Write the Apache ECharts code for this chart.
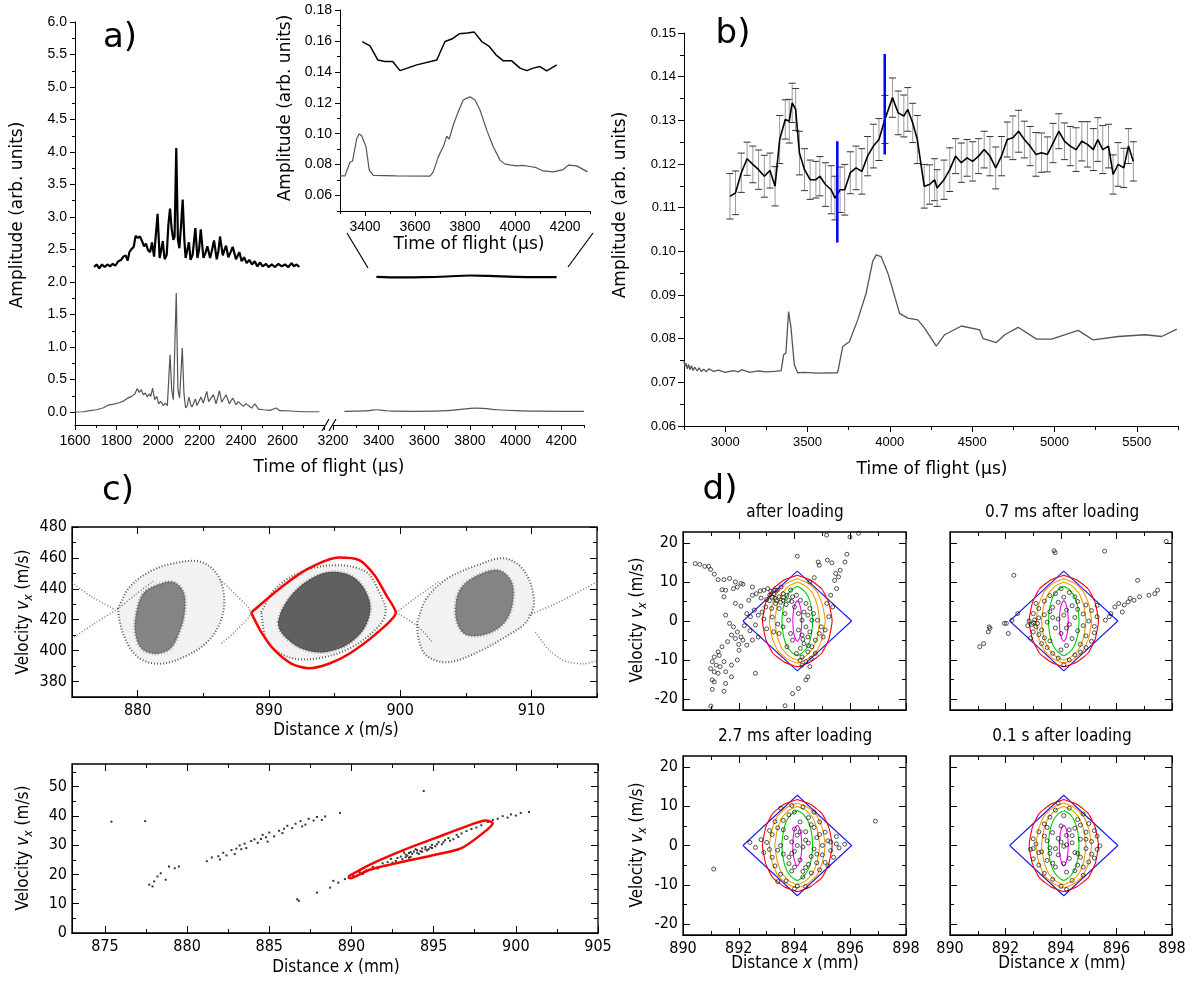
<!DOCTYPE html>
<html>
<head>
<meta charset="utf-8">
<script src="https://cdn.jsdelivr.net/npm/echarts@6/dist/echarts.min.js"></script>
<style>
  html, body { margin: 0; padding: 0; background: #fff; }
  #main { width: 1192px; height: 984px; }
</style>
</head>
<body>
<div id="main"></div>
<script>
// ---------- panel a: broadband spectrum (time of flight, amplitude) ----------
const aTimeLabelsLeft = [1600, 1800, 2000, 2200, 2400, 2600];
const aTimeLabelsRight = [3200, 3400, 3600, 3800, 4000, 4200];
const aAmpLabels = [0, 0.5, 1, 1.5, 2, 2.5, 3, 3.5, 4, 4.5, 5, 5.5, 6];

const aUpperTrace = [
  [1692,2.23],[1704,2.27],[1717,2.21],[1730,2.27],[1743,2.23],[1756,2.27],[1769,2.24],[1782,2.28],[1794,2.25],
  [1809,2.32],[1822,2.34],[1833,2.39],[1844,2.41],[1854,2.33],[1862,2.46],[1873,2.51],[1883,2.54],[1892,2.71],
  [1902,2.68],[1913,2.70],[1923,2.63],[1933,2.55],[1942,2.59],[1952,2.49],[1962,2.46],[1971,2.61],[1981,2.39],
  [1989,2.37],[1998,3.05],[2008,2.37],[2016,2.50],[2023,2.63],[2032,2.35],[2042,2.42],[2050,2.88],[2058,3.13],
  [2066,2.81],[2074,2.65],[2080,2.70],[2088,4.06],[2096,2.65],[2103,2.52],[2111,2.86],[2119,3.27],[2127,2.65],
  [2133,2.37],[2141,2.39],[2149,2.61],[2157,2.34],[2167,2.42],[2180,2.83],[2190,2.37],[2198,2.50],[2206,2.81],
  [2219,2.37],[2228,2.44],[2238,2.55],[2251,2.37],[2260,2.49],[2270,2.64],[2283,2.35],[2291,2.47],[2299,2.70],
  [2312,2.41],[2320,2.49],[2328,2.56],[2339,2.38],[2350,2.46],[2360,2.54],[2376,2.35],[2392,2.46],[2403,2.32],
  [2415,2.38],[2427,2.29],[2440,2.34],[2453,2.27],[2466,2.32],[2479,2.24],[2492,2.30],[2504,2.24],[2521,2.28],
  [2533,2.23],[2548,2.27],[2564,2.23],[2580,2.28],[2596,2.24],[2612,2.27],[2628,2.23],[2644,2.29],[2655,2.24],
  [2668,2.27],[2681,2.23]
];
const aUpperTraceFar = [[3390,2.08],[3500,2.072],[3600,2.075],[3700,2.085],[3800,2.1],[3880,2.095],[4000,2.08],[4100,2.075],[4180,2.075]];

const aLowerTrace = [
  [1600,0.0],[1640,0.004],[1672,0.02],[1704,0.035],[1737,0.066],[1761,0.107],[1785,0.122],[1809,0.138],[1833,0.168],
  [1852,0.209],[1873,0.24],[1889,0.281],[1900,0.363],[1910,0.302],[1920,0.343],[1929,0.266],[1939,0.291],[1949,0.23],
  [1958,0.281],[1965,0.24],[1974,0.368],[1984,0.189],[1994,0.24],[2003,0.127],[2013,0.163],[2026,0.097],[2035,0.138],
  [2045,0.097],[2058,0.881],[2066,0.343],[2074,0.189],[2080,0.215],[2088,1.83],[2096,0.343],[2104,0.215],[2117,0.984],
  [2125,0.29],[2133,0.061],[2141,0.10],[2149,0.23],[2157,0.12],[2164,0.076],[2172,0.14],[2180,0.199],[2188,0.10],
  [2196,0.11],[2207,0.23],[2218,0.138],[2235,0.317],[2244,0.16],[2251,0.148],[2267,0.266],[2280,0.127],[2296,0.327],
  [2307,0.15],[2312,0.127],[2328,0.266],[2344,0.127],[2360,0.215],[2376,0.112],[2387,0.16],[2395,0.148],[2411,0.087],
  [2424,0.127],[2435,0.102],[2451,0.061],[2467,0.127],[2484,0.045],[2508,0.035],[2540,0.025],[2569,0.061],[2588,0.02],
  [2636,0.015],[2700,0.004],[2778,0.004]
];
const aLowerTraceFar = [[3250,0.01],[3300,0.012],[3360,0.02],[3390,0.035],[3420,0.025],[3460,0.012],[3550,0.01],[3650,0.012],
  [3700,0.02],[3760,0.04],[3820,0.06],[3860,0.055],[3920,0.035],[4000,0.02],[4100,0.012],[4200,0.01],[4300,0.01]];

// inset of panel a
const insetTimeLabels = [3400, 3600, 3800, 4000, 4200];
const insetAmpLabels = [0.06, 0.08, 0.10, 0.12, 0.14, 0.16, 0.18];
const insetUpper = [[3389,0.1596],[3420,0.1568],[3451,0.1477],[3480,0.1467],[3511,0.1467],[3540,0.1408],[3607,0.1445],
  [3687,0.1477],[3720,0.1596],[3747,0.1612],[3777,0.1646],[3809,0.1651],[3837,0.1657],[3867,0.1596],[3897,0.1564],
  [3924,0.1510],[3953,0.1471],[3987,0.1471],[4020,0.1424],[4047,0.1408],[4073,0.1424],[4100,0.1434],[4127,0.1406],[4167,0.1445]];
const insetLower = [[3300,0.0727],[3320,0.0727],[3340,0.0817],[3350,0.0822],[3367,0.0969],[3377,0.0999],[3387,0.0985],
  [3393,0.0997],[3404,0.0915],[3417,0.0764],[3433,0.0731],[3527,0.0727],[3660,0.0725],[3673,0.0753],[3693,0.0850],
  [3713,0.0915],[3727,0.0984],[3737,0.0965],[3753,0.1056],[3773,0.1142],[3793,0.1218],[3808,0.1230],[3820,0.1239],
  [3840,0.1218],[3860,0.1153],[3887,0.1023],[3913,0.0915],[3940,0.0829],[3960,0.0803],[3985,0.0797],[4007,0.0792],
  [4030,0.0795],[4060,0.0788],[4085,0.0780],[4113,0.0759],[4153,0.0753],[4193,0.0768],[4213,0.0797],[4247,0.0792],[4290,0.0753]];

// ---------- panel b ----------
const bTimeLabels = [3000, 3500, 4000, 4500, 5000, 5500];
const bAmpLabels = [0.06, 0.07, 0.08, 0.09, 0.10, 0.11, 0.12, 0.13, 0.14, 0.15];
const bTime = [3029,3063,3098,3133,3168,3203,3238,3272,3303,3331,3365,3389,3407,3428,3451,3482,3516,3551,3575,3609,
  3644,3667,3698,3726,3760,3795,3830,3865,3900,3934,3970,4016,4051,4085,4109,4139,4167,4209,4241,4272,4287,4329,4364,
  4399,4434,4469,4503,4539,4573,4608,4643,4678,4713,4747,4782,4817,4852,4887,4921,4957,4991,5026,5061,5096,5131,5166,
  5200,5236,5263,5293,5328,5356,5386,5421,5449,5479];
const bSignal = [0.1126,0.1134,0.1180,0.1212,0.1199,0.1187,0.1172,0.1185,0.1149,0.1256,0.1302,0.1298,0.1340,0.1325,
  0.1225,0.1187,0.1164,0.1164,0.1172,0.1153,0.1141,0.1122,0.1141,0.1141,0.1180,0.1191,0.1183,0.1218,0.1241,0.1256,
  0.1302,0.1352,0.1317,0.1310,0.1325,0.1294,0.1256,0.1149,0.1153,0.1164,0.1145,0.1164,0.1187,0.1218,0.1203,0.1214,
  0.1206,0.1218,0.1233,0.1218,0.1191,0.1218,0.1256,0.1260,0.1275,0.1256,0.1241,0.1222,0.1226,0.1222,0.1248,0.1275,
  0.1252,0.1241,0.1233,0.1252,0.1245,0.1233,0.1256,0.1233,0.1241,0.1176,0.1199,0.1191,0.1241,0.1206];
const bError = [0.0052,0.0050,0.0045,0.0038,0.0042,0.0045,0.0048,0.0040,0.0045,0.0055,0.0045,0.0050,0.0045,0.0048,
  0.0050,0.0048,0.0045,0.0042,0.0045,0.0050,0.0055,0.0050,0.0052,0.0058,0.0048,0.0050,0.0052,0.0045,0.0050,0.0048,
  0.0055,0.0045,0.0050,0.0048,0.0050,0.0045,0.0055,0.0050,0.0045,0.0048,0.0042,0.0045,0.0050,0.0040,0.0045,0.0042,
  0.0045,0.0040,0.0042,0.0045,0.0048,0.0045,0.0040,0.0050,0.0048,0.0042,0.0045,0.0050,0.0045,0.0040,0.0045,0.0040,
  0.0042,0.0045,0.0050,0.0045,0.0052,0.0048,0.0050,0.0055,0.0050,0.0045,0.0050,0.0045,0.0040,0.0045];
const bReference = [[2750,0.0748],[2756,0.0736],[2762,0.0744],[2770,0.0731],[2778,0.0741],[2786,0.0729],[2795,0.0738],
  [2805,0.0727],[2815,0.0735],[2830,0.0726],[2842,0.0733],[2855,0.0725],[2870,0.0730],[2885,0.0724],[2900,0.0731],
  [2930,0.0725],[2960,0.0728],[3000,0.0723],[3050,0.0727],[3080,0.0724],[3100,0.0729],[3150,0.0723],[3200,0.0726],
  [3250,0.0724],[3300,0.0725],[3340,0.0727],[3355,0.0763],[3369,0.0767],
  [3385,0.0862],[3399,0.0828],[3420,0.0740],[3440,0.0722],[3480,0.0723],[3486,0.0726],[3562,0.0721],[3683,0.0722],
  [3714,0.0782],[3754,0.0793],[3805,0.0843],[3856,0.0904],[3896,0.0977],[3917,0.0992],[3947,0.0988],[3988,0.0950],
  [4018,0.0912],[4059,0.0858],[4109,0.0847],[4170,0.0843],[4211,0.0824],[4282,0.0783],[4333,0.0809],[4434,0.0829],
  [4546,0.0820],[4566,0.0800],[4647,0.0791],[4698,0.0809],[4779,0.0826],[4891,0.0799],[4982,0.0799],[5144,0.0819],
  [5235,0.0797],[5388,0.0805],[5550,0.0809],[5651,0.0805],[5743,0.0822]];
const bMarkerA = [[3681,0.1020],[3681,0.1252]];
const bMarkerB = [[3969,0.1222],[3969,0.1452]];

// ---------- panel c ----------
const cTopXLabels = [880, 890, 900, 910];
const cTopYLabels = [380, 400, 420, 440, 460, 480];
const cBotXLabels = [875, 880, 885, 890, 895, 900, 905];
const cBotYLabels = [0, 10, 20, 30, 40, 50];

const cLeftCore = [[879.9,425.0],[880.4,436.9],[881.4,442.3],[882.7,444.5],[883.5,438.0],[883.6,425.0],[883.2,412.0],
  [882.5,401.2],[881.4,397.9],[880.3,401.2],[879.8,412.0]];
const cLeftRing = [[878.5,427.2],[879.4,441.2],[880.9,451.0],[882.7,456.4],[884.8,457.5],[886.1,448.8],[886.6,433.7],
  [886.3,418.5],[885.3,405.5],[883.5,395.8],[881.7,391.5],[880.2,394.7],[879.3,403.4],[878.7,416.4],[878.5,427.2]];
const cMidCore = [[890.7,418.5],[891.5,433.7],[893.0,445.6],[894.8,451.0],[896.6,446.7],[897.7,431.5],[897.4,416.4],
  [896.1,404.4],[894.3,399.0],[892.5,401.2],[891.1,409.9]];
const cMidRing = [[889.4,425.0],[890.5,440.2],[892.5,451.0],[895.1,455.3],[897.4,451.0],[898.4,438.0],[898.9,425.0],
  [898.2,414.2],[896.1,401.2],[893.5,394.7],[891.5,395.8],[889.9,405.5],[889.4,425.0]];
const cRightCore = [[904.2,427.2],[904.6,440.2],[905.9,448.8],[907.5,452.1],[908.5,444.5],[908.6,431.5],[908.0,418.5],
  [906.7,410.9],[905.1,409.9],[904.4,416.4]];
const cRightRing = [[901.3,418.5],[902.0,433.7],[903.6,446.7],[905.9,455.3],[908.0,459.7],[909.5,451.0],[910.2,431.5],
  [909.6,418.5],[908.2,409.9],[905.9,399.0],[903.6,392.5],[902.0,396.9],[901.4,407.7],[901.3,418.5]];
const cArms = [
  [[875,407.7],[876.6,417],[878.4,426.5],[879.8,436],[881.2,445]],
  [[875,444],[876.5,434.8],[878.3,426.5]],
  [[886.3,446],[887.5,436],[888.6,424.6],[887.5,413],[886.3,404]],
  [[899.7,424.6],[901,433],[903,445]],
  [[899.7,424.6],[901.3,416],[902.5,405]],
  [[909.8,423],[912,431],[915,444.5]],
  [[910.3,412],[911.3,401],[912.5,393.5],[914,391.5],[915,393.5]]
];
const cSeparatrix = [[888.65,424.6],[890.97,441.2],[893.03,453.2],[895.34,460.3],[896.89,458.6],[898.05,448.8],
  [898.95,435.8],[899.67,424.6],[898.18,411.0],[896.12,398.0],[894.57,391.5],[893.03,388.6],[891.74,391.5],
  [890.45,400.1],[889.42,412.0],[888.65,424.6]];

const cBotParticles = [[875.4,38.0],[877.45,38.2],[877.7,16.5],[878.0,17.6],[878.2,19.3],[878.4,20.4],[878.9,22.7],
  [879.25,22.1],[877.9,15.9],[878.7,18.2],[879.5,22.7],[881.2,24.5],[881.5,25.8],[881.9,26.2],[882.2,27.4],[882.4,26.5],
  [882.7,28.3],[883.0,28.8],[883.2,29.9],[883.5,30.5],[883.6,29.0],[883.9,31.4],[884.1,32.0],[884.3,30.8],[884.6,33.5],
  [884.8,32.7],[885.0,34.3],[885.3,33.0],[885.6,34.9],[885.9,35.6],[886.1,36.6],[886.4,35.8],[886.6,37.3],[886.9,38.2],
  [887.2,37.0],[887.4,39.0],[887.7,38.4],[887.9,39.6],[888.2,38.6],[888.4,39.8],[889.3,41.0],[886.8,11.0],[887.9,13.8],
  [884.9,31.2],[882.9,27.0],[888.7,15.5],[889.2,17.2],[889.6,18.4],[890.1,19.6],[890.5,20.8],[890.9,21.3],[891.3,22.6],
  [891.6,22.0],[891.9,23.8],[892.2,24.2],[892.4,25.3],[892.7,24.6],[893.0,26.1],[893.1,25.2],[893.3,26.8],[893.5,27.3],
  [893.6,26.0],[893.8,27.8],[894.0,28.3],[894.1,27.0],[894.3,28.9],[894.5,29.4],[894.7,28.6],[894.9,30.1],[895.1,29.6],
  [895.3,31.0],[895.5,30.3],[895.7,31.7],[895.9,32.4],[896.2,32.0],[896.4,33.5],[896.7,34.0],[897.0,34.8],[897.3,35.5],
  [897.6,36.0],[897.9,36.8],[898.3,37.9],[898.6,38.6],[898.9,39.0],[899.2,39.9],[899.5,39.4],[899.7,40.5],[900.0,40.1],
  [900.3,41.0],[900.8,41.3],[888.9,17.8],[894.4,48.5],[886.7,11.5],[893.2,27.5],[893.4,26.4],[893.7,27.0],[893.9,28.6],
  [894.2,28.0],[894.6,28.2],[893.5,25.7],[892.8,25.6],[894.8,29.3],[892.0,23.0],[892.5,24.0],[893.3,25.9],[893.6,27.6],
  [894.0,27.4],[894.3,27.7],[894.5,28.6],[894.9,29.0],[895.2,30.3],[895.6,31.0],[896.0,31.5],[896.5,32.8],[891.2,21.7],
  [890.7,20.2],[884.5,32.1],[883.3,28.6],[882.0,25.1],[885.8,34.1],[887.0,36.4]];
const cBotSeparatrix = [[889.8,19.3],[891.1,23.3],[893.2,28.4],[895.1,32.4],[896.7,35.8],[898.2,38.4],[898.6,37.5],
  [898.0,34.1],[896.7,29.0],[895.1,26.7],[893.2,24.4],[891.1,21.6],[889.9,18.7],[889.8,19.3]];

// ---------- panel d ----------
const dXLabels = [890, 892, 894, 896, 898];
const dYLabels = [-20, -10, 0, 10, 20];
const dTitles = ['after loading', '0.7 ms after loading', '2.7 ms after loading', '0.1 s after loading'];

const dAfterLoading = [[890.44,14.7],[890.6,14.5],[890.78,14.0],[890.99,13.2],[891.12,12.0],[890.92,14.0],[891.47,10.6],
  [891.67,10.9],[891.88,10.0],[892.15,9.4],[891.53,7.9],[891.81,8.3],[891.88,4.5],[892.08,3.8],[892.36,5.3],[892.49,6.6],
  [892.63,7.0],[892.77,7.7],[892.9,7.9],[893.04,8.3],[893.11,6.6],[893.25,7.0],[893.38,7.9],[893.45,6.2],[893.59,7.0],
  [893.73,6.6],[893.79,5.3],[893.93,6.2],[892.29,1.9],[892.42,1.1],[892.56,2.8],[892.7,1.5],[892.84,2.3],[892.97,3.6],
  [893.18,3.2],[893.32,4.5],[891.53,1.5],[891.67,-0.6],[891.81,-1.5],[891.95,-2.8],[892.08,-4.1],[892.15,-4.9],
  [891.88,-4.5],[891.74,-3.6],[891.6,-5.3],[891.4,-6.6],[891.26,-7.9],[891.12,-9.2],[891.05,-10.4],[891.19,-11.3],
  [891.33,-11.7],[891.47,-10.4],[890.99,-12.2],[891.12,-13.0],[891.26,-13.4],[891.53,-13.0],[891.74,-11.3],[891.95,-10.0],
  [892.01,-7.5],[892.29,-6.2],[892.49,-4.9],[892.7,-4.1],[891.05,-15.1],[891.12,-15.6],[891.53,-16.0],[891.05,-17.5],
  [891.47,-18.0],[891.74,-14.3],[892.6,-13.4],[891.0,-21.8],[893.66,-21.7],[893.93,-18.6],[894.14,-17.3],[894.48,-14.3],
  [894.41,-15.1],[894.0,3.6],[894.14,1.9],[894.27,0.2],[894.41,-1.5],[894.55,-2.8],[894.48,-4.1],[894.34,-5.8],
  [894.21,-7.0],[894.07,-8.3],[894.27,-9.2],[894.48,-7.9],[894.62,-6.6],[894.75,-4.9],[894.89,-3.2],[894.96,-1.5],
  [894.82,0.2],[894.68,1.9],[894.55,3.2],[894.41,4.5],[894.21,5.3],[894.07,6.6],[893.86,7.9],[893.59,5.3],[893.45,3.2],
  [893.66,1.9],[893.79,0.2],[893.59,-1.5],[893.45,-3.2],[893.25,-2.8],[893.86,-3.2],[893.93,-4.9],[893.73,-6.6],
  [894.14,-2.3],[894.27,-3.6],[894.62,0.2],[894.48,1.5],[894.34,2.3],[894.75,-8.3],[894.41,-10.4],[894.55,-11.7],
  [894.27,-11.3],[895.03,-4.1],[895.1,-2.3],[895.23,1.1],[895.37,3.6],[895.3,6.6],[895.16,4.5],[893.32,7.9],[893.52,8.7],
  [895.51,8.3],[895.44,10.4],[895.58,11.3],[895.48,12.2],[895.64,13.0],[895.81,15.1],[895.34,14.9],[894.85,15.1],
  [894.89,14.3],[895.18,15.6],[894.1,16.6],[895.15,22.0],[895.99,21.5],[895.88,17.1],[896.3,22.5],[894.71,11.1],
  [894.55,10.0],[891.26,10.6],[891.4,8.0],[891.95,8.7],[892.08,9.6],[892.49,8.7],[891.47,6.2],[893.1,5.2],[893.3,5.8],
  [893.5,4.8],[893.7,4.2],[893.2,1.0],[893.4,-0.8],[892.9,0.5],[893.0,-2.0],[892.4,-2.5],[892.6,-1.0],[893.0,5.5],
  [893.2,6.1],[893.6,6.0],[893.9,5.0],[893.35,5.2],[892.8,5.9],[893.15,7.6],[892.2,-1.2],[892.0,-6.0],[891.3,-8.8],
  [894.3,-4.7],[894.5,-6.3],[894.2,-10.1],[894.6,-9.6]];
const dAfter07ms = [[893.75,18.0],[893.79,17.5],[895.57,17.9],[897.79,20.4],[892.3,11.7],[891.07,-6.6],[891.21,-5.8],
  [891.41,-1.5],[891.44,-1.9],[891.38,-2.8],[891.96,-0.6],[892.03,-0.6],[892.1,-3.2],[892.23,0.2],[892.44,1.9],
  [895.8,1.9],[895.94,3.6],[896.08,4.5],[896.28,4.1],[896.42,4.9],[896.49,5.8],[896.76,10.4],[897.17,6.6],[897.38,7.0],
  [897.48,7.9],[896.83,6.2],[896.63,5.3],[895.6,0.2],[895.74,1.1],[896.21,2.3],[893.0,-0.5],[893.1,-1.5],[893.2,0.8],
  [893.3,-2.3],[893.0,-2.8],[893.2,-3.5],[893.4,1.6],[893.5,-0.3],[893.6,2.4],[893.4,-4.3],[893.6,-5.1],[893.7,3.5],
  [893.8,-1.8],[893.9,0.5],[893.9,4.8],[894.0,-3.2],[894.1,1.5],[894.1,6.1],[894.2,-6.3],[894.0,-7.4],[894.2,2.8],
  [894.3,-0.9],[894.4,3.9],[894.4,-4.5],[894.5,0.9],[894.6,-2.5],[894.6,5.0],[894.7,-6.0],[894.8,1.8],[894.8,-1.2],
  [894.9,-3.8],[895.0,0.0],[895.1,2.7],[895.1,-5.2],[895.2,-1.4],[895.3,1.1],[893.7,-8.3],[893.9,-9.5],[894.1,-11.2],
  [894.3,-10.0],[894.5,-8.7],[893.5,-6.8],[893.3,-5.8],[893.6,6.5],[893.8,7.0],[894.3,7.3],[894.5,6.2],[894.0,8.3],
  [893.2,3.2],[893.1,4.5],[892.9,-4.4],[893.0,1.9],[892.8,-1.2],[894.7,-8.0],[894.9,-6.8],[895.2,-3.0],[895.3,4.0],
  [893.4,5.1],[894.2,-1.8],[893.7,0.9],[894.6,3.0],[894.9,4.1],[892.95,-0.9],[893.05,0.3],[893.15,-0.6],[892.85,0.0]];
const dAfter27ms = [[891.1,-6.0],[896.9,6.2],[893.0,0.8],[893.1,-1.0],[893.2,2.8],[893.2,-3.0],[893.4,4.5],[893.3,-5.2],
  [893.5,0.0],[893.5,-7.3],[893.6,6.4],[893.6,-2.2],[893.7,2.0],[893.7,-9.0],[893.8,7.8],[893.8,-4.6],[893.9,0.9],
  [893.9,-6.5],[894.0,4.2],[894.0,-1.5],[894.0,8.5],[894.1,-10.3],[894.1,2.6],[894.2,-3.7],[894.2,6.0],[894.3,-0.4],
  [894.3,-8.0],[894.4,3.5],[894.4,-5.6],[894.5,7.1],[894.5,0.6],[894.6,-2.8],[894.6,-7.0],[894.7,4.6],[894.7,-0.9],
  [894.8,-4.4],[894.8,2.0],[894.9,6.0],[894.9,-6.2],[895.0,0.0],[895.0,-2.4],[895.1,3.4],[895.1,-4.3],[895.2,1.2],
  [895.3,-1.3],[895.4,-3.0],[895.5,0.4],[895.6,-0.6],[895.5,2.3],[893.9,10.2],[894.3,9.8],[894.4,-10.5],[894.0,-11.0],
  [893.5,9.5],[894.7,8.5],[893.4,-9.2],[892.9,-1.8],[892.8,1.5],[893.1,3.8],[893.3,6.1],[894.1,0.0],[894.2,3.5],
  [893.8,-3.0],[894.5,-4.8],[894.9,2.8],[895.2,-5.2],[892.6,-0.5],[892.4,0.8],[895.8,0.3],[893.6,4.0],[894.6,5.3],
  [894.3,-6.6],[894.0,-5.5],[893.9,-2.0],[894.4,1.4],[894.8,-2.2],[893.4,-1.2],[895.3,0.9]];
const dAfter100ms = [[892.9,-1.0],[893.0,1.7],[893.0,-3.4],[893.1,0.4],[893.2,3.5],[893.2,-5.0],[893.3,-1.6],[893.4,5.5],
  [893.4,-7.1],[893.5,1.2],[893.5,-3.8],[893.6,7.2],[893.6,-0.6],[893.7,3.3],[893.7,-8.6],[893.8,-5.5],[893.8,9.0],
  [893.9,1.8],[893.9,-2.4],[894.0,5.0],[894.0,-10.4],[894.1,-0.2],[894.1,7.6],[894.2,-6.8],[894.2,2.6],[894.3,-3.3],
  [894.3,9.5],[894.4,0.7],[894.4,-8.9],[894.5,4.4],[894.5,-1.8],[894.6,6.6],[894.6,-5.0],[894.7,1.6],[894.7,-3.0],
  [894.8,8.0],[894.8,-7.6],[894.9,3.4],[894.9,-0.8],[895.0,5.6],[895.0,-4.2],[895.1,1.0],[895.1,-2.2],[895.2,3.8],
  [895.3,-1.0],[895.4,-0.1],[895.3,2.4],[893.9,10.8],[894.2,-11.2],[893.4,2.4],[893.8,-0.8],[894.3,4.0],[894.6,-2.0],
  [894.0,0.9],[893.6,-2.0],[894.8,-5.5],[893.2,-1.8],[894.4,2.5],[894.9,1.6],[893.5,4.6],[893.0,-0.8],[895.2,-3.2],
  [894.7,5.2],[894.1,-4.6],[894.2,0.2],[893.7,-4.5],[894.5,-6.4]];

const dDiamond = [[892.15,0],[894.1,12.8],[896.05,0],[894.1,-12.8],[892.15,0]];
const dLensRed = [[894.1,11.7],[894.57,10.5],[894.98,8.2],[895.23,4.7],[895.35,0],[895.23,-4.7],[894.98,-8.2],[894.57,-10.5],
  [894.1,-11.7],[893.63,-10.5],[893.22,-8.2],[892.97,-4.7],[892.85,0],[892.97,4.7],[893.22,8.2],[893.63,10.5],[894.1,11.7]];
const dLensOrange = [[894.1,10.8],[894.48,9.7],[894.8,7.6],[895.0,4.3],[895.1,0],[895.0,-4.3],[894.8,-7.6],[894.48,-9.7],
  [894.1,-10.8],[893.72,-9.7],[893.4,-7.6],[893.2,-4.3],[893.1,0],[893.2,4.3],[893.4,7.6],[893.72,9.7],[894.1,10.8]];
const dLensAmber = [[894.1,10.0],[894.4,9.0],[894.66,7.0],[894.82,4.0],[894.9,0],[894.82,-4.0],[894.66,-7.0],[894.4,-9.0],
  [894.1,-10.0],[893.8,-9.0],[893.54,-7.0],[893.38,-4.0],[893.3,0],[893.38,4.0],[893.54,7.0],[893.8,9.0],[894.1,10.0]];
const dLensGreen = [[894.1,8.9],[894.31,8.0],[894.49,6.2],[894.6,3.6],[894.65,0],[894.6,-3.6],[894.49,-6.2],[894.31,-8.0],
  [894.1,-8.9],[893.89,-8.0],[893.71,-6.2],[893.6,-3.6],[893.55,0],[893.6,3.6],[893.71,6.2],[893.89,8.0],[894.1,8.9]];
const dLensMagenta = [[894.1,5.2],[894.16,4.7],[894.21,3.6],[894.245,2.1],[894.26,0],[894.245,-2.1],[894.21,-3.6],
  [894.16,-4.7],[894.1,-5.2],[894.04,-4.7],[893.99,-3.6],[893.955,-2.1],[893.94,0],[893.955,2.1],[893.99,3.6],
  [894.04,4.7],[894.1,5.2]];

// ---------- layout / helpers ----------
const SANS = 'Liberation Sans, Arial, sans-serif';
const DV = 'DejaVu Sans, sans-serif';
const DVC = 'DejaVu Sans Condensed, DejaVu Sans, sans-serif';

function steps(a, b, s) {
  const r = [];
  for (let v = a; v <= b + 1e-9; v += s) r.push(+v.toFixed(6));
  return r;
}

const frame = { show: true, borderColor: '#000', borderWidth: 1.3 };
const grids = [
  { left: 75, top: 22, width: 249, height: 403 },   // 0 a left
  { left: 333, top: 22, width: 251, height: 403 },  // 1 a right
  { left: 340, top: 10, width: 250, height: 201 },  // 2 inset
  { left: 684, top: 33, width: 494, height: 393 },  // 3 b
  Object.assign({ left: 72, top: 527, width: 525, height: 170 }, frame), // 4 c top
  Object.assign({ left: 72, top: 764, width: 526, height: 169 }, frame), // 5 c bottom
  Object.assign({ left: 683, top: 532, width: 223, height: 178 }, frame), // 6 d TL
  Object.assign({ left: 950, top: 532, width: 222, height: 178 }, frame), // 7 d TR
  Object.assign({ left: 683, top: 756, width: 223, height: 179 }, frame), // 8 d BL
  Object.assign({ left: 950, top: 756, width: 222, height: 179 }, frame)  // 9 d BR
];

const xAxes = [], yAxes = [];
function axis(list, o) {
  const idx = list.length;
  const base = { type: 'value', gridIndex: o.g, min: o.min, max: o.max, position: o.pos, splitLine: { show: false }, silent: true };
  list.push(Object.assign({}, base, {
    axisLine: { show: o.line !== false, onZero: false, lineStyle: { color: '#000', width: 1 } },
    axisTick: o.ticks ? { show: true, inside: !!o.inside, length: o.tl || 5, customValues: o.ticks, lineStyle: { color: '#000', width: 1 } } : { show: false },
    axisLabel: o.labels ? { show: true, customValues: o.labels, formatter: o.fmt, color: '#000', fontSize: o.fs, fontFamily: o.ff, margin: o.margin } : { show: false }
  }));
  if (o.minor) {
    list.push(Object.assign({}, base, {
      axisLine: { show: false, onZero: false }, axisLabel: { show: false },
      axisTick: { show: true, inside: !!o.inside, length: o.ml || 3, customValues: o.minor, lineStyle: { color: '#000', width: 1 } }
    }));
  }
  return idx;
}

// panel a axes
const f1 = v => v.toFixed(1), f2 = v => v.toFixed(2), f0 = v => String(v);
const axAL = axis(xAxes, { g: 0, min: 1600, max: 2800, pos: 'bottom', labels: aTimeLabelsLeft, ticks: steps(1600, 2800, 200), minor: steps(1700, 2700, 200), tl: 5, fs: 14, ff: SANS, margin: 9, fmt: f0 });
const axAR = axis(xAxes, { g: 1, min: 3200, max: 4300, pos: 'bottom', labels: aTimeLabelsRight, ticks: steps(3200, 4200, 200), minor: steps(3300, 4300, 200), tl: 5, fs: 14, ff: SANS, margin: 9, fmt: f0 });
const ayA = axis(yAxes, { g: 0, min: -0.2, max: 6, pos: 'left', labels: aAmpLabels, ticks: aAmpLabels, minor: steps(0.25, 5.75, 0.5), tl: 5, fs: 14, ff: SANS, margin: 8, fmt: f1 });
const ayAR = axis(yAxes, { g: 1, min: -0.2, max: 6, pos: 'left', line: false });
const axIn = axis(xAxes, { g: 2, min: 3300, max: 4300, pos: 'bottom', labels: insetTimeLabels, ticks: insetTimeLabels, minor: steps(3300, 4300, 200), tl: 5, fs: 14, ff: SANS, margin: 9, fmt: f0 });
const ayIn = axis(yAxes, { g: 2, min: 0.05, max: 0.18, pos: 'left', labels: insetAmpLabels, ticks: insetAmpLabels, minor: steps(0.05, 0.17, 0.02), tl: 5, fs: 14, ff: SANS, margin: 8, fmt: f2 });
// panel b axes
const axB = axis(xAxes, { g: 3, min: 2750, max: 5750, pos: 'bottom', labels: bTimeLabels, ticks: bTimeLabels, minor: steps(2750, 5750, 500), tl: 6, ml: 4, fs: 13, ff: SANS, margin: 10, fmt: f0 });
const ayB = axis(yAxes, { g: 3, min: 0.06, max: 0.15, pos: 'left', labels: bAmpLabels, ticks: bAmpLabels, minor: steps(0.065, 0.145, 0.01), tl: 6, ml: 4, fs: 13, ff: SANS, margin: 8, fmt: f2 });
// panel c axes
const axC1 = axis(xAxes, { g: 4, min: 875, max: 915, pos: 'bottom', labels: cTopXLabels, ticks: cTopXLabels, minor: steps(875, 915, 10), inside: true, tl: 7, ml: 4, fs: 16, ff: DVC, margin: 6, fmt: f0 });
axis(xAxes, { g: 4, min: 875, max: 915, pos: 'top', line: false, ticks: cTopXLabels, minor: steps(875, 915, 10), inside: true, tl: 7, ml: 4 });
const ayC1 = axis(yAxes, { g: 4, min: 370, max: 480, pos: 'left', labels: cTopYLabels, ticks: cTopYLabels, minor: steps(370, 470, 20), inside: true, tl: 7, ml: 4, fs: 16, ff: DVC, margin: 5, fmt: f0 });
axis(yAxes, { g: 4, min: 370, max: 480, pos: 'right', line: false, ticks: cTopYLabels, minor: steps(370, 470, 20), inside: true, tl: 7, ml: 4 });
const axC2 = axis(xAxes, { g: 5, min: 873, max: 905, pos: 'bottom', labels: cBotXLabels, ticks: cBotXLabels, minor: steps(877.5, 902.5, 5), inside: true, tl: 7, ml: 4, fs: 16, ff: DVC, margin: 6, fmt: f0 });
axis(xAxes, { g: 5, min: 873, max: 905, pos: 'top', line: false, ticks: cBotXLabels, minor: steps(877.5, 902.5, 5), inside: true, tl: 7, ml: 4 });
const ayC2 = axis(yAxes, { g: 5, min: 0, max: 57.7, pos: 'left', labels: cBotYLabels, ticks: cBotYLabels, minor: steps(5, 55, 10), inside: true, tl: 7, ml: 4, fs: 16, ff: DVC, margin: 5, fmt: f0 });
axis(yAxes, { g: 5, min: 0, max: 57.7, pos: 'right', line: false, ticks: cBotYLabels, minor: steps(5, 55, 10), inside: true, tl: 7, ml: 4 });
// panel d axes
const dX = [], dY = [];
for (let k = 0; k < 4; k++) {
  const g = 6 + k;
  const showX = k >= 2, showY = k % 2 === 0;
  dX.push(axis(xAxes, { g, min: 890, max: 898, pos: 'bottom', labels: showX ? dXLabels : null, ticks: dXLabels, minor: steps(891, 897, 2), inside: true, tl: 7, ml: 4, fs: 16, ff: DVC, margin: 6, fmt: f0 }));
  axis(xAxes, { g, min: 890, max: 898, pos: 'top', line: false, ticks: dXLabels, minor: steps(891, 897, 2), inside: true, tl: 7, ml: 4 });
  dY.push(axis(yAxes, { g, min: -22.8, max: 22.8, pos: 'left', labels: showY ? dYLabels : null, ticks: dYLabels, minor: steps(-15, 15, 10), inside: true, tl: 7, ml: 4, fs: 16, ff: DVC, margin: 5, fmt: f0 }));
  axis(yAxes, { g, min: -22.8, max: 22.8, pos: 'right', line: false, ticks: dYLabels, minor: steps(-15, 15, 10), inside: true, tl: 7, ml: 4 });
}

// ---------- series ----------
function line(xi, yi, data, color, width, extra) {
  return Object.assign({ type: 'line', xAxisIndex: xi, yAxisIndex: yi, data, showSymbol: false, symbol: 'none',
    lineStyle: { color, width }, silent: true, animation: false, z: 3 }, extra || {});
}
function polygon(xi, yi, pts, style, z) {
  return { type: 'custom', xAxisIndex: xi, yAxisIndex: yi, data: [[pts[0][0], pts[0][1]]], silent: true, animation: false,
    clip: true, z: z || 2,
    renderItem: (p, api) => ({ type: 'polygon', shape: { points: pts.map(q => api.coord(q)), smooth: 0.35 }, style }) };
}

const series = [];
// panel a
series.push(line(axAL, ayA, aUpperTrace, '#000', 2.2));
series.push(line(axAL, ayA, aLowerTrace, '#555', 1.2));
series.push(line(axAR, ayAR, aUpperTraceFar, '#000', 2.2, { smooth: 0.4 }));
series.push(line(axAR, ayAR, aLowerTraceFar, '#555', 1.2, { smooth: 0.4 }));
series.push(line(axIn, ayIn, insetUpper, '#000', 1.5));
series.push(line(axIn, ayIn, insetLower, '#555', 1.2));
// panel b
series.push({
  type: 'custom', xAxisIndex: axB, yAxisIndex: ayB, silent: true, animation: false, z: 2,
  data: bTime.map((t, i) => [t, bSignal[i] - bError[i], bSignal[i] + bError[i]]),
  encode: { x: 0, y: [1, 2] },
  renderItem: (p, api) => {
    const lo = api.coord([api.value(0), api.value(1)]);
    const hi = api.coord([api.value(0), api.value(2)]);
    const c = 3.5;
    return { type: 'group', children: [
      { type: 'line', shape: { x1: lo[0], y1: lo[1], x2: hi[0], y2: hi[1] }, style: { stroke: '#999', lineWidth: 1 } },
      { type: 'line', shape: { x1: lo[0] - c, y1: lo[1], x2: lo[0] + c, y2: lo[1] }, style: { stroke: '#333', lineWidth: 1 } },
      { type: 'line', shape: { x1: hi[0] - c, y1: hi[1], x2: hi[0] + c, y2: hi[1] }, style: { stroke: '#333', lineWidth: 1 } }
    ] };
  }
});
series.push(line(axB, ayB, bTime.map((t, i) => [t, bSignal[i]]), '#000', 1.6));
series.push(line(axB, ayB, bReference, '#555', 1.3));
series.push(line(axB, ayB, bMarkerA, '#0000ff', 2.5, { z: 4 }));
series.push(line(axB, ayB, bMarkerB, '#0000ff', 2.5, { z: 4 }));

// panel c top
const ringStyle = { fill: 'rgba(0,0,0,0.05)', stroke: 'rgba(60,60,60,0.85)', lineWidth: 2, lineDash: [1, 2] };
const coreEdge = { stroke: 'rgba(30,30,30,0.35)', lineWidth: 3, lineDash: [1, 2] };
series.push(polygon(axC1, ayC1, cLeftRing, ringStyle, 1));
series.push(polygon(axC1, ayC1, cMidRing, ringStyle, 1));
series.push(polygon(axC1, ayC1, cRightRing, ringStyle, 1));
series.push(polygon(axC1, ayC1, cLeftCore, Object.assign({ fill: 'rgba(30,30,30,0.52)' }, coreEdge), 2));
series.push(polygon(axC1, ayC1, cMidCore, Object.assign({ fill: 'rgba(20,20,20,0.66)' }, coreEdge), 2));
series.push(polygon(axC1, ayC1, cRightCore, Object.assign({ fill: 'rgba(30,30,30,0.52)' }, coreEdge), 2));
cArms.forEach(arm => series.push(line(axC1, ayC1, arm, 'rgba(90,90,90,0.8)', 1.5, { smooth: 0.3, lineStyle: { color: 'rgba(90,90,90,0.8)', width: 1.5, type: [1, 2] }, z: 1 })));
series.push(line(axC1, ayC1, cSeparatrix, '#ff0000', 2.5, { smooth: 0.25, z: 5 }));

// panel c bottom
series.push({ type: 'scatter', xAxisIndex: axC2, yAxisIndex: ayC2, data: cBotParticles, symbol: 'rect', symbolSize: 2,
  itemStyle: { color: '#000' }, silent: true, animation: false, z: 2 });
series.push(line(axC2, ayC2, cBotSeparatrix, '#ff0000', 2.5, { smooth: 0.25, z: 5 }));

// panel d
const dData = [dAfterLoading, dAfter07ms, dAfter27ms, dAfter100ms];
for (let k = 0; k < 4; k++) {
  const xi = dX[k], yi = dY[k];
  series.push(line(xi, yi, dDiamond, '#1a1aff', 1.1));
  series.push(line(xi, yi, dLensRed, '#ff0000', 1.1, { smooth: 0.15 }));
  series.push(line(xi, yi, dLensOrange, '#ff9900', 1.1, { smooth: 0.15 }));
  series.push(line(xi, yi, dLensAmber, '#e6a000', 1.1, { smooth: 0.15 }));
  series.push(line(xi, yi, dLensGreen, '#00d000', 1.1, { smooth: 0.15 }));
  series.push(line(xi, yi, dLensMagenta, '#ff00ff', 1.1, { smooth: 0.15 }));
  series.push({ type: 'scatter', xAxisIndex: xi, yAxisIndex: yi, data: dData[k], symbol: 'circle', symbolSize: 4,
    itemStyle: { color: 'rgba(0,0,0,0)', borderColor: '#111', borderWidth: 0.9 }, silent: true, animation: false, z: 4 });
}

// ---------- texts / decorations ----------
function text(x, y, str, fs, ff, extra) {
  return Object.assign({ type: 'text', x, y, z: 100, silent: true,
    style: { text: str, fontSize: fs, fontFamily: ff, fill: '#000', align: 'center', verticalAlign: 'middle' } }, extra || {});
}
function richText(x, y, str, fs, ff, rot) {
  return { type: 'text', x, y, z: 100, silent: true, rotation: rot || 0,
    style: { text: str, fill: '#000', align: 'center', verticalAlign: 'middle',
      rich: {
        n: { fontSize: fs, fontFamily: ff, fill: '#000', lineHeight: 22 },
        i: { fontSize: fs, fontFamily: ff, fontStyle: 'italic', fill: '#000', lineHeight: 22 },
        s: { fontSize: fs - 5, fontFamily: ff, fontStyle: 'italic', fill: '#000', verticalAlign: 'bottom', lineHeight: 14 }
      } } };
}
const R90 = Math.PI / 2;
const velName = '{n|Velocity }{i|v}{s|x}{n| (m/s)}';
const graphic = [
  // panel letters
  text(120, 38, 'a)', 34, DV),
  text(733, 34, 'b)', 34, DV),
  text(118, 491, 'c)', 34, DV),
  text(720, 490, 'd)', 34, DV),
  // panel a texts
  text(329, 468, 'Time of flight (\u00b5s)', 17, DV),
  text(18, 215, 'Amplitude (arb. units)', 17, DV, { rotation: R90 }),
  text(469, 245, 'Time of flight (\u00b5s)', 17, DV),
  text(286, 108, 'Amplitude (arb. units)', 17, DV, { rotation: R90 }),
  // panel b texts
  text(932, 470, 'Time of flight (\u00b5s)', 17, DV),
  text(621, 205, 'Amplitude (arb. units)', 17, DV, { rotation: R90 }),
  // panel c texts
  richText(336, 731, '{n|Distance }{i|x}{n| (m/s)}', 17, DVC),
  richText(24, 612, velName, 17, DVC, R90),
  richText(336, 968, '{n|Distance }{i|x}{n| (mm)}', 17, DVC),
  richText(24, 848, velName, 17, DVC, R90),
  // panel d texts
  text(795, 513, dTitles[0], 17, DVC),
  text(1062, 513, dTitles[1], 17, DVC),
  text(795, 737, dTitles[2], 17, DVC),
  text(1062, 737, dTitles[3], 17, DVC),
  richText(795, 964, '{n|Distance }{i|x}{n| (mm)}', 17, DVC),
  richText(1062, 964, '{n|Distance }{i|x}{n| (mm)}', 17, DVC),
  richText(638, 620, velName, 17, DVC, R90),
  richText(638, 845, velName, 17, DVC, R90),
  // inset connectors
  { type: 'line', z: 100, silent: true, shape: { x1: 347, y1: 233, x2: 368, y2: 268 }, style: { stroke: '#000', lineWidth: 1.2 } },
  { type: 'line', z: 100, silent: true, shape: { x1: 593, y1: 233, x2: 568, y2: 267 }, style: { stroke: '#000', lineWidth: 1.2 } },
  // axis break marks
  { type: 'rect', z: 99, silent: true, shape: { x: 325, y: 419, width: 8, height: 12 }, style: { fill: '#fff' } },
  { type: 'line', z: 100, silent: true, shape: { x1: 322, y1: 431, x2: 329, y2: 419 }, style: { stroke: '#000', lineWidth: 1.2 } },
  { type: 'line', z: 100, silent: true, shape: { x1: 329, y1: 431, x2: 336, y2: 419 }, style: { stroke: '#000', lineWidth: 1.2 } }
];

const chart = echarts.init(document.getElementById('main'), null, { renderer: 'canvas' });
chart.setOption({
  backgroundColor: '#fff',
  animation: false,
  grid: grids,
  xAxis: xAxes,
  yAxis: yAxes,
  series,
  graphic
});
</script>
</body>
</html>
